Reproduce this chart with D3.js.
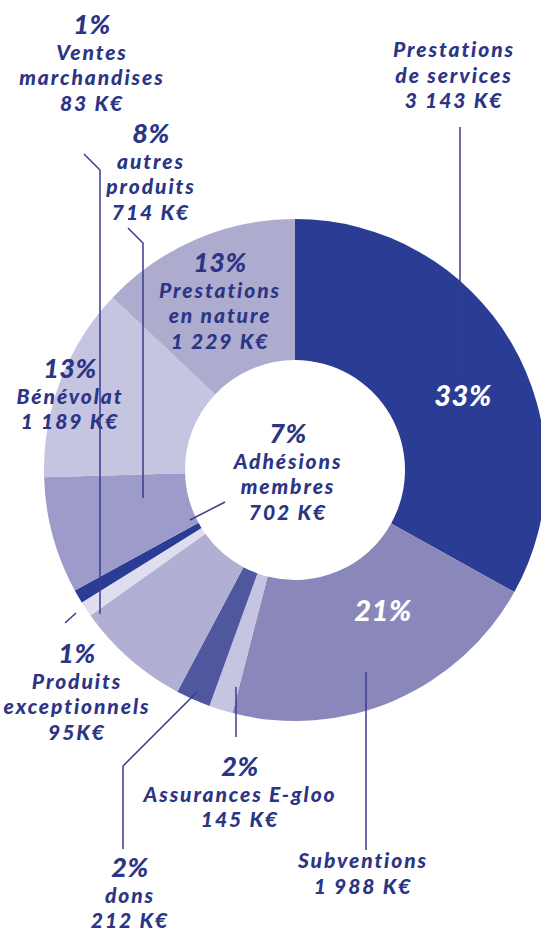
<!DOCTYPE html>
<meta charset="utf-8">
<script src="https://cdn.jsdelivr.net/npm/d3@7"></script>
<style>
body {margin: 0; background: #fff;}
svg text {font-family: Lato, "Open Sans", sans-serif; font-style: italic; font-weight: 900; fill: #2c3585;}
.big {font-size: 27px; letter-spacing: 0.5px;}
.small {font-size: 21px; letter-spacing: 1.9px;}
.white {fill: #fff !important; font-size: 29px; letter-spacing: 0.5px;}
.leader {fill: none; stroke: #3a3d8e; stroke-width: 1.5;}
</style>
<div id="vis"></div>
<script>

// Data
var categories = ["Prestations de services", "Subventions", "Assurances E-gloo", "dons",
  "Adhésions membres", "Produits exceptionnels", "Ventes marchandises", "autres produits",
  "Bénévolat", "Prestations en nature"];
var values = [3143, 1988, 145, 212, 702, 95, 83, 714, 1189, 1229];
var percents = ["33%", "21%", "2%", "2%", "7%", "1%", "1%", "8%", "13%", "13%"];
var amounts = ["3 143 K€", "1 988 K€", "145 K€", "212 K€", "702 K€", "95K€", "83 K€", "714 K€", "1 189 K€", "1 229 K€"];
var colors = ["#2a3c93", "#8a88bb", "#c6c5e1", "#4f589f", "#b1b0d4",
  "#dedeee", "#2a3c93", "#9d9bc9", "#c5c4e1", "#adaccf"];

// Layout
var w = 541, h = 931;
var cx = 295, cy = 470, rIn = 110, rOut = 251;

var svg = d3.select("#vis").append("svg")
    .attr("width", w)
    .attr("height", h);

var pie = d3.pie().sort(null).value(function(d) { return d; });
var arc = d3.arc().innerRadius(rIn).outerRadius(rOut);

var g = svg.append("g").attr("transform", "translate(" + cx + "," + cy + ")");

g.selectAll("path")
  .data(pie(values))
  .enter().append("path")
    .attr("d", arc)
    .attr("fill", function(d, i) { return colors[i]; });

// label blocks: index into data, anchor x, first baseline, line names
var labels = [
  {i: 0, x: 454, y: 57, lines: ["Prestations", "de services"], pct: false},
  {i: 1, x: 363, y: 868, lines: ["Subventions"], pct: false},
  {i: 2, x: 240, y: 776, lines: ["Assurances E-gloo"], pct: true},
  {i: 3, x: 130, y: 877, lines: ["dons"], pct: true},
  {i: 4, x: 288, y: 443, lines: ["Adhésions", "membres"], pct: true},
  {i: 5, x: 77, y: 663, lines: ["Produits", "exceptionnels"], pct: true},
  {i: 6, x: 92, y: 34, lines: ["Ventes", "marchandises"], pct: true},
  {i: 7, x: 151, y: 143, lines: ["autres", "produits"], pct: true},
  {i: 8, x: 70, y: 378, lines: ["Bénévolat"], pct: true},
  {i: 9, x: 220, y: 272, lines: ["Prestations", "en nature"], pct: true}
];

var lh = 25.5;
labels.forEach(function(l) {
  var t = svg.append("g");
  var y = l.y;
  if (l.pct) {
    t.append("text").attr("class", "big").attr("x", l.x).attr("y", y)
      .attr("text-anchor", "middle").text(percents[l.i]);
    y += lh;
  }
  l.lines.concat([amounts[l.i]]).forEach(function(s) {
    t.append("text").attr("class", "small").attr("x", l.x).attr("y", y)
      .attr("text-anchor", "middle").text(s);
    y += lh;
  });
});

// percentages written inside the two biggest slices
var inside = [{i: 0, x: 463, y: 406}, {i: 1, x: 383, y: 621}];
inside.forEach(function(l) {
  svg.append("text").attr("class", "white").attr("x", l.x).attr("y", l.y)
    .attr("text-anchor", "middle").text(percents[l.i]);
});

// leader lines
var leaders = [
  [[460, 127], [460, 375]],
  [[366, 672], [366, 850]],
  [[236, 687], [236, 737]],
  [[197, 692], [123, 766], [123, 849]],
  [[225, 502], [190, 520]],
  [[76, 613], [65, 623]],
  [[84, 154], [100, 170], [100, 614]],
  [[128, 228], [143, 243], [143, 498]]
];
svg.selectAll(".leader")
  .data(leaders)
  .enter().append("path")
    .attr("class", "leader")
    .attr("d", d3.line());

</script>
